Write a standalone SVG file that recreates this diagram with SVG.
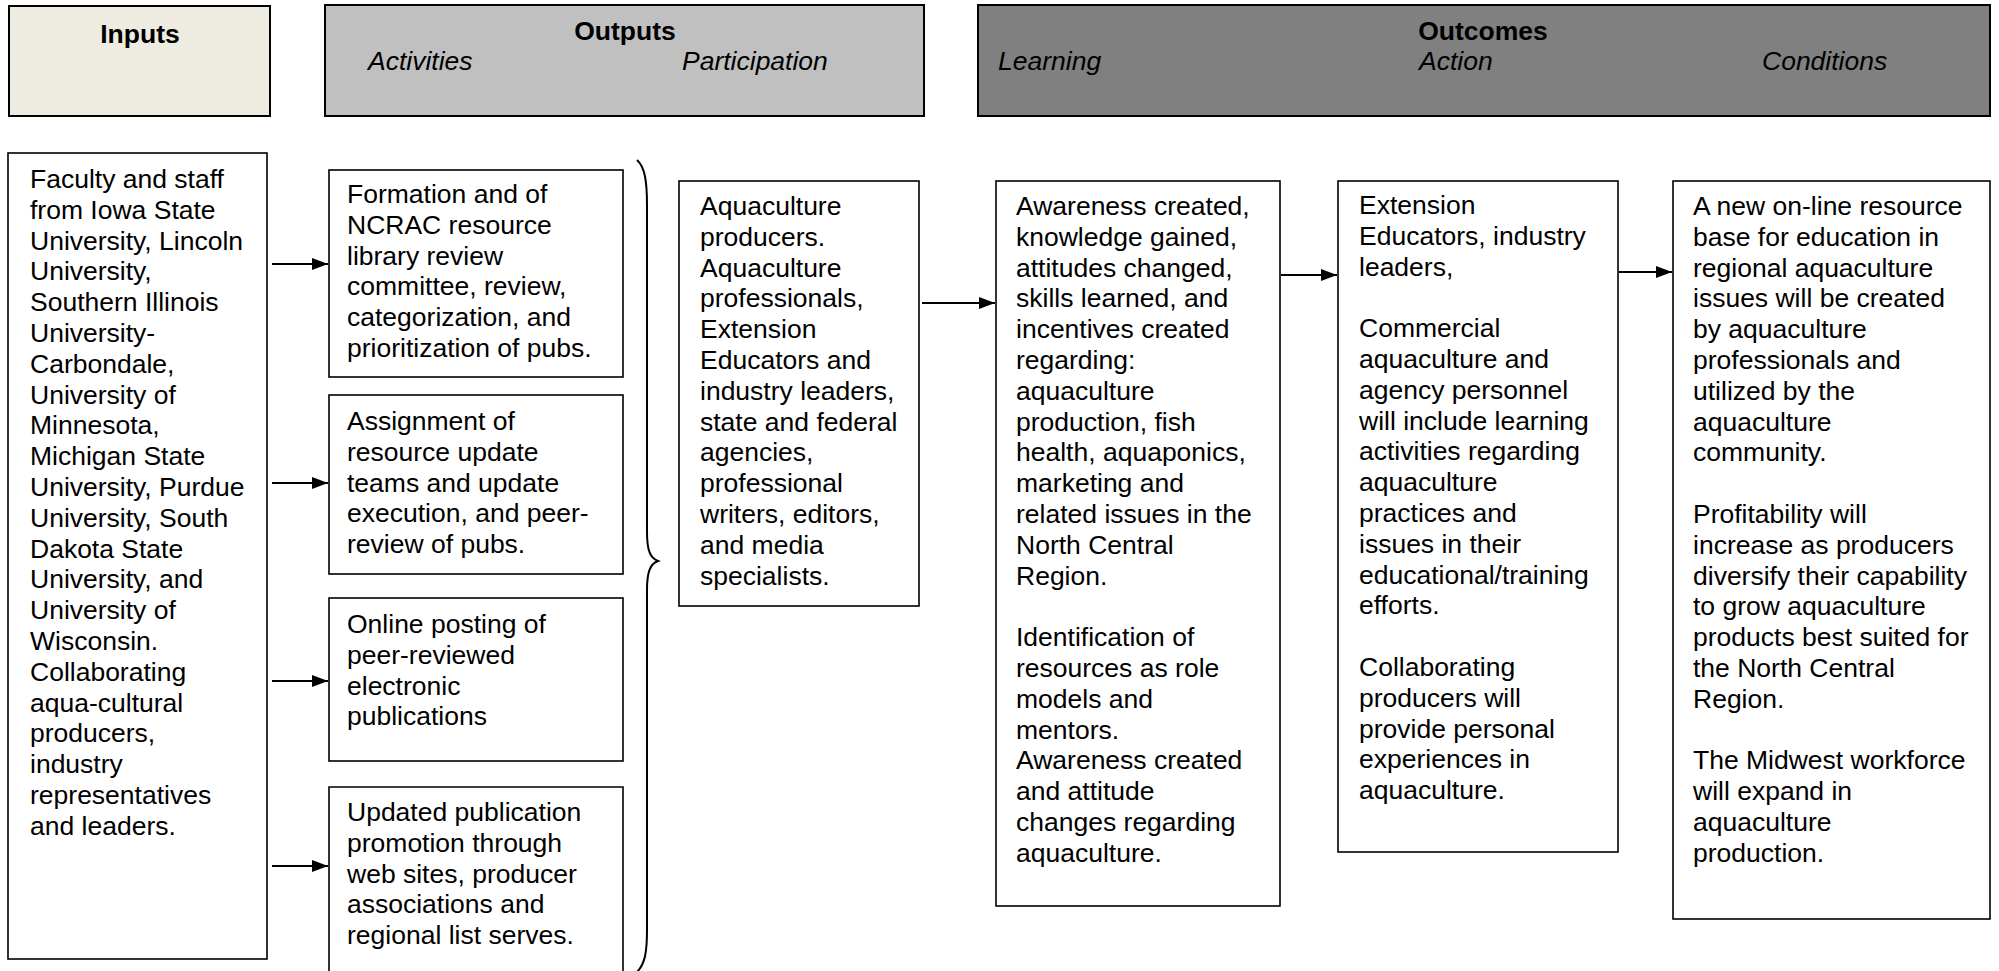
<svg xmlns="http://www.w3.org/2000/svg" width="1999" height="971" viewBox="0 0 1999 971">
  <style>
    .hdr { stroke: #000; stroke-width: 2; }
    .box { fill: #fff; stroke: #000; stroke-width: 1.6; }
    .t { font-family: "Liberation Sans", Arial, sans-serif; font-size: 26.5px; fill: #000; }
    .b { font-weight: bold; }
    .i { font-style: italic; }
    .conn { stroke: #000; stroke-width: 2; fill: none; }
  </style>
  <defs>
    <marker id="arrow" viewBox="0 0 16 12" refX="16" refY="6" markerWidth="16" markerHeight="12" markerUnits="userSpaceOnUse" orient="auto">
      <path d="M0,0 L16,6 L0,12 Z" fill="#000"/>
    </marker>
  </defs>
  <rect width="1999" height="971" fill="#fff"/>

  <!-- column headers -->
  <g id="hdr-inputs">
    <rect class="hdr" x="9" y="6" width="261" height="110" fill="#eeece1"/>
    <text class="t b" x="140" y="43" text-anchor="middle">Inputs</text>
  </g>
  <g id="hdr-outputs">
    <rect class="hdr" x="325" y="5" width="599" height="111" fill="#c0c0c0"/>
    <text class="t b" x="625" y="40" text-anchor="middle">Outputs</text>
    <text class="t i" x="368" y="70">Activities</text>
    <text class="t i" x="682" y="70">Participation</text>
  </g>
  <g id="hdr-outcomes">
    <rect class="hdr" x="978" y="5" width="1012" height="111" fill="#808080"/>
    <text class="t b" x="1483" y="40" text-anchor="middle">Outcomes</text>
    <text class="t i" x="998" y="70">Learning</text>
    <text class="t i" x="1419" y="70">Action</text>
    <text class="t i" x="1762" y="70">Conditions</text>
  </g>

  <!-- inputs -->
  <g id="inputs">
    <rect class="box" x="8" y="153" width="259" height="806"/>
    <text class="t" y="188">
      <tspan x="30">Faculty and staff</tspan>
      <tspan x="30" dy="30.8">from Iowa State</tspan>
      <tspan x="30" dy="30.8">University, Lincoln</tspan>
      <tspan x="30" dy="30.8">University,</tspan>
      <tspan x="30" dy="30.8">Southern Illinois</tspan>
      <tspan x="30" dy="30.8">University-</tspan>
      <tspan x="30" dy="30.8">Carbondale,</tspan>
      <tspan x="30" dy="30.8">University of</tspan>
      <tspan x="30" dy="30.8">Minnesota,</tspan>
      <tspan x="30" dy="30.8">Michigan State</tspan>
      <tspan x="30" dy="30.8">University, Purdue</tspan>
      <tspan x="30" dy="30.8">University, South</tspan>
      <tspan x="30" dy="30.8">Dakota State</tspan>
      <tspan x="30" dy="30.8">University, and</tspan>
      <tspan x="30" dy="30.8">University of</tspan>
      <tspan x="30" dy="30.8">Wisconsin.</tspan>
      <tspan x="30" dy="30.8">Collaborating</tspan>
      <tspan x="30" dy="30.8">aqua-cultural</tspan>
      <tspan x="30" dy="30.8">producers,</tspan>
      <tspan x="30" dy="30.8">industry</tspan>
      <tspan x="30" dy="30.8">representatives</tspan>
      <tspan x="30" dy="30.8">and leaders.</tspan>
    </text>
  </g>

  <!-- activities -->
  <g id="activity-1">
    <rect class="box" x="329" y="170" width="294" height="207"/>
    <text class="t" y="203">
      <tspan x="347">Formation and of</tspan>
      <tspan x="347" dy="30.8">NCRAC resource</tspan>
      <tspan x="347" dy="30.8">library review</tspan>
      <tspan x="347" dy="30.8">committee, review,</tspan>
      <tspan x="347" dy="30.8">categorization, and</tspan>
      <tspan x="347" dy="30.8">prioritization of pubs.</tspan>
    </text>
  </g>
  <g id="activity-2">
    <rect class="box" x="329" y="395" width="294" height="179"/>
    <text class="t" y="430">
      <tspan x="347">Assignment of</tspan>
      <tspan x="347" dy="30.8">resource update</tspan>
      <tspan x="347" dy="30.8">teams and update</tspan>
      <tspan x="347" dy="30.8">execution, and peer-</tspan>
      <tspan x="347" dy="30.8">review of pubs.</tspan>
    </text>
  </g>
  <g id="activity-3">
    <rect class="box" x="329" y="598" width="294" height="163"/>
    <text class="t" y="633">
      <tspan x="347">Online posting of</tspan>
      <tspan x="347" dy="30.8">peer-reviewed</tspan>
      <tspan x="347" dy="30.8">electronic</tspan>
      <tspan x="347" dy="30.8">publications</tspan>
    </text>
  </g>
  <g id="activity-4">
    <path class="box" d="M329,975 L329,787 L623,787 L623,975"/>
    <text class="t" y="821">
      <tspan x="347">Updated publication</tspan>
      <tspan x="347" dy="30.8">promotion through</tspan>
      <tspan x="347" dy="30.8">web sites, producer</tspan>
      <tspan x="347" dy="30.8">associations and</tspan>
      <tspan x="347" dy="30.8">regional list serves.</tspan>
    </text>
  </g>

  <!-- participation -->
  <g id="participation">
    <rect class="box" x="679" y="181" width="240" height="425"/>
    <text class="t" y="215">
      <tspan x="700">Aquaculture</tspan>
      <tspan x="700" dy="30.8">producers.</tspan>
      <tspan x="700" dy="30.8">Aquaculture</tspan>
      <tspan x="700" dy="30.8">professionals,</tspan>
      <tspan x="700" dy="30.8">Extension</tspan>
      <tspan x="700" dy="30.8">Educators and</tspan>
      <tspan x="700" dy="30.8">industry leaders,</tspan>
      <tspan x="700" dy="30.8">state and federal</tspan>
      <tspan x="700" dy="30.8">agencies,</tspan>
      <tspan x="700" dy="30.8">professional</tspan>
      <tspan x="700" dy="30.8">writers, editors,</tspan>
      <tspan x="700" dy="30.8">and media</tspan>
      <tspan x="700" dy="30.8">specialists.</tspan>
    </text>
  </g>

  <!-- learning outcomes -->
  <g id="learning">
    <rect class="box" x="996" y="181" width="284" height="725"/>
    <text class="t" y="215">
      <tspan x="1016">Awareness created,</tspan>
      <tspan x="1016" dy="30.8">knowledge gained,</tspan>
      <tspan x="1016" dy="30.8">attitudes changed,</tspan>
      <tspan x="1016" dy="30.8">skills learned, and</tspan>
      <tspan x="1016" dy="30.8">incentives created</tspan>
      <tspan x="1016" dy="30.8">regarding:</tspan>
      <tspan x="1016" dy="30.8">aquaculture</tspan>
      <tspan x="1016" dy="30.8">production, fish</tspan>
      <tspan x="1016" dy="30.8">health, aquaponics,</tspan>
      <tspan x="1016" dy="30.8">marketing and</tspan>
      <tspan x="1016" dy="30.8">related issues in the</tspan>
      <tspan x="1016" dy="30.8">North Central</tspan>
      <tspan x="1016" dy="30.8">Region.</tspan>
      <tspan x="1016" dy="61.6">Identification of</tspan>
      <tspan x="1016" dy="30.8">resources as role</tspan>
      <tspan x="1016" dy="30.8">models and</tspan>
      <tspan x="1016" dy="30.8">mentors.</tspan>
      <tspan x="1016" dy="30.8">Awareness created</tspan>
      <tspan x="1016" dy="30.8">and attitude</tspan>
      <tspan x="1016" dy="30.8">changes regarding</tspan>
      <tspan x="1016" dy="30.8">aquaculture.</tspan>
    </text>
  </g>

  <!-- action outcomes -->
  <g id="action">
    <rect class="box" x="1338" y="181" width="280" height="671"/>
    <text class="t" y="214">
      <tspan x="1359">Extension</tspan>
      <tspan x="1359" dy="30.8">Educators, industry</tspan>
      <tspan x="1359" dy="30.8">leaders,</tspan>
      <tspan x="1359" dy="61.6">Commercial</tspan>
      <tspan x="1359" dy="30.8">aquaculture and</tspan>
      <tspan x="1359" dy="30.8">agency personnel</tspan>
      <tspan x="1359" dy="30.8">will include learning</tspan>
      <tspan x="1359" dy="30.8">activities regarding</tspan>
      <tspan x="1359" dy="30.8">aquaculture</tspan>
      <tspan x="1359" dy="30.8">practices and</tspan>
      <tspan x="1359" dy="30.8">issues in their</tspan>
      <tspan x="1359" dy="30.8">educational/training</tspan>
      <tspan x="1359" dy="30.8">efforts.</tspan>
      <tspan x="1359" dy="61.6">Collaborating</tspan>
      <tspan x="1359" dy="30.8">producers will</tspan>
      <tspan x="1359" dy="30.8">provide personal</tspan>
      <tspan x="1359" dy="30.8">experiences in</tspan>
      <tspan x="1359" dy="30.8">aquaculture.</tspan>
    </text>
  </g>

  <!-- condition outcomes -->
  <g id="conditions">
    <rect class="box" x="1673" y="181" width="317" height="738"/>
    <text class="t" y="215">
      <tspan x="1693">A new on-line resource</tspan>
      <tspan x="1693" dy="30.8">base for education in</tspan>
      <tspan x="1693" dy="30.8">regional aquaculture</tspan>
      <tspan x="1693" dy="30.8">issues will be created</tspan>
      <tspan x="1693" dy="30.8">by aquaculture</tspan>
      <tspan x="1693" dy="30.8">professionals and</tspan>
      <tspan x="1693" dy="30.8">utilized by the</tspan>
      <tspan x="1693" dy="30.8">aquaculture</tspan>
      <tspan x="1693" dy="30.8">community.</tspan>
      <tspan x="1693" dy="61.6">Profitability will</tspan>
      <tspan x="1693" dy="30.8">increase as producers</tspan>
      <tspan x="1693" dy="30.8">diversify their capability</tspan>
      <tspan x="1693" dy="30.8">to grow aquaculture</tspan>
      <tspan x="1693" dy="30.8">products best suited for</tspan>
      <tspan x="1693" dy="30.8">the North Central</tspan>
      <tspan x="1693" dy="30.8">Region.</tspan>
      <tspan x="1693" dy="61.6">The Midwest workforce</tspan>
      <tspan x="1693" dy="30.8">will expand in</tspan>
      <tspan x="1693" dy="30.8">aquaculture</tspan>
      <tspan x="1693" dy="30.8">production.</tspan>
    </text>
  </g>

  <!-- connectors -->
  <g id="connectors">
    <line class="conn" x1="272" y1="264" x2="328" y2="264" marker-end="url(#arrow)"/>
    <line class="conn" x1="272" y1="483" x2="328" y2="483" marker-end="url(#arrow)"/>
    <line class="conn" x1="272" y1="681" x2="328" y2="681" marker-end="url(#arrow)"/>
    <line class="conn" x1="272" y1="866" x2="328" y2="866" marker-end="url(#arrow)"/>
    <!-- brace grouping the activities -->
    <path class="conn" stroke-width="1.6" d="M637,160 C645,167 647,182 647,205 L647,532 C647,550 650,558 658,561 C650,564 647,572 647,590 L647,930 C647,952 645,964 637,972"/>
    <line class="conn" x1="922" y1="303" x2="995" y2="303" marker-end="url(#arrow)"/>
    <line class="conn" x1="1281" y1="275" x2="1337" y2="275" marker-end="url(#arrow)"/>
    <line class="conn" x1="1619" y1="272" x2="1672" y2="272" marker-end="url(#arrow)"/>
  </g>
</svg>
